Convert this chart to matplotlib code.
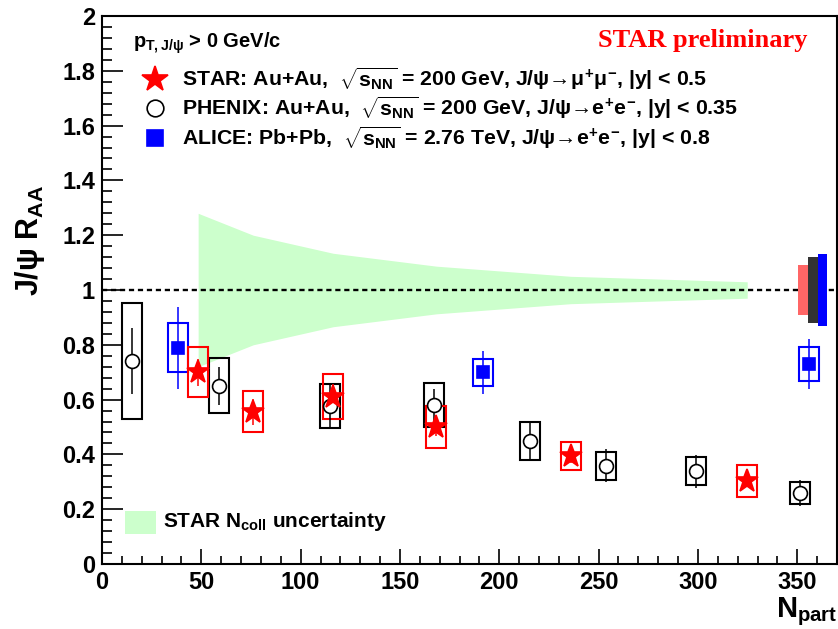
import matplotlib
matplotlib.use("Agg")
import matplotlib.pyplot as plt
from matplotlib.ticker import MultipleLocator

plt.rcParams['font.family'] = ['Liberation Sans', 'DejaVu Sans']
plt.rcParams['font.weight'] = 'bold'
plt.rcParams['mathtext.fontset'] = 'custom'
plt.rcParams['mathtext.rm'] = 'Liberation Sans:bold'
plt.rcParams['mathtext.it'] = 'Liberation Sans:bold'
plt.rcParams['mathtext.bf'] = 'Liberation Sans:bold'
plt.rcParams['mathtext.sf'] = 'Liberation Sans:bold'

# STAR Au+Au 200 GeV, J/psi -> mu+ mu-
star_npart = [48.4, 76.1, 116.4, 168.3, 235.9, 324.8]
star_raa = [0.700, 0.556, 0.611, 0.501, 0.394, 0.303]
star_stat = [0.050, 0.047, 0.045, 0.035, 0.025, 0.020]
star_sys = [0.092, 0.076, 0.083, 0.077, 0.052, 0.057]
star_ncoll_unc = [0.28, 0.20, 0.134, 0.087, 0.05, 0.03]

# PHENIX Au+Au 200 GeV, J/psi -> e+ e-
phenix_npart = [14.9, 58.9, 114.7, 167.0, 215.3, 253.9, 299.1, 351.3]
phenix_raa = [0.741, 0.650, 0.577, 0.580, 0.449, 0.358, 0.339, 0.260]
phenix_stat = [0.119, 0.070, 0.080, 0.060, 0.071, 0.060, 0.060, 0.048]
phenix_sys = [0.210, 0.100, 0.080, 0.081, 0.071, 0.052, 0.050, 0.041]

# ALICE Pb+Pb 2.76 TeV, J/psi -> e+ e-
alice_npart = [38.4, 191.6, 355.8]
alice_raa = [0.789, 0.700, 0.730]
alice_stat = [0.150, 0.078, 0.090]
alice_sys = [0.090, 0.050, 0.061]

# global normalisation uncertainties drawn at R_AA = 1 (STAR, PHENIX, ALICE)
global_x = [353.0, 357.9, 362.7]
global_unc = [0.091, 0.120, 0.130]
global_colors = ['#ff6666', '#333333', '#0000ff']

BOX_WIDTH = 10.0

fig = plt.figure(figsize=(8.38, 6.29), dpi=100)
ax = fig.add_axes([102 / 838, 65 / 629, 735 / 838, 548 / 629])

# N_coll uncertainty band around unity
band_lo = [1 - u for u in star_ncoll_unc]
band_hi = [1 + u for u in star_ncoll_unc]
ax.fill_between(star_npart, band_lo, band_hi, color='#ccffcc', lw=0, zorder=1)
ax.axhline(1.0, color='black', lw=1.7, ls=(0, (2.2, 1.6)), zorder=2)

for gx, gu, gc in zip(global_x, global_unc, global_colors):
    ax.bar(gx, 2 * gu, bottom=1 - gu, width=4.8, color=gc, lw=0, zorder=3)


def draw_series(npart, raa, stat, sys, color, marker, ms, mfc):
    # systematic boxes, statistical bars, then the markers on top
    bottoms = [r - s for r, s in zip(raa, sys)]
    heights = [2 * s for s in sys]
    ax.bar(npart, heights, bottom=bottoms, width=BOX_WIDTH, fill=False,
           edgecolor=color, lw=1.5, zorder=4)
    ax.errorbar(npart, raa, yerr=stat, fmt='none', ecolor=color, elinewidth=1.1,
                capsize=0, zorder=5)
    ax.plot(npart, raa, ls='none', marker=marker, ms=ms, mfc=mfc,
            mec=color, mew=1.2, zorder=6)


draw_series(phenix_npart, phenix_raa, phenix_stat, phenix_sys, 'black', 'o', 10, 'white')
draw_series(alice_npart, alice_raa, alice_stat, alice_sys, '#0000ff', 's', 9, '#0000ff')
draw_series(star_npart, star_raa, star_stat, star_sys, '#ff0000', '*', 17, '#ff0000')

ax.set_xlim(0, 370)
ax.set_ylim(0, 2)
ax.xaxis.set_major_locator(MultipleLocator(50))
ax.xaxis.set_minor_locator(MultipleLocator(10))
ax.yaxis.set_major_locator(MultipleLocator(0.2))
ax.yaxis.set_minor_locator(MultipleLocator(0.04))
ax.yaxis.set_major_formatter(lambda v, p: '%d' % round(v) if abs(v - round(v)) < 1e-9 else '%.1f' % v)
ax.tick_params(axis='both', which='both', direction='in', top=False, right=False,
               labelsize=17, width=1.2)
ax.tick_params(axis='y', which='major', length=15, pad=5)
ax.tick_params(axis='y', which='minor', length=7.5)
ax.tick_params(axis='x', which='major', length=11, pad=5)
ax.tick_params(axis='x', which='minor', length=5.5)
for lab in ax.get_xticklabels() + ax.get_yticklabels():
    lab.set_fontweight('bold')
for sp in ax.spines.values():
    sp.set_linewidth(1.5)

fig.text(30 / 838, 1 - 240 / 629, r'J/ψ $R_{AA}$', rotation=90, fontsize=22,
         fontweight='bold', ha='center', va='center')
fig.text(837 / 838, 1 - 617 / 629, r'$N_{part}$', fontsize=21, fontweight='bold',
         ha='right', va='baseline')

# legend block (top left)
tr = ax.transAxes
ax.text(0.042, 0.942, r'$p_{T,J/\psi}$ > 0 GeV/c', transform=tr, fontsize=14.5,
        fontweight='bold', va='baseline')
ax.text(0.9605, 0.943, 'STAR preliminary', transform=tr, fontsize=19, color='#ff0000',
        fontweight='bold', family=['Liberation Serif', 'DejaVu Serif'], ha='right',
        va='baseline')

legend_rows = [
    ('*', '#ff0000', '#ff0000', 19, 0.885,
     r'STAR: Au+Au,  $\sqrt{s_{NN}}$ = 200 GeV, J/ψ→$\mu^{+}\mu^{-}$, |y| < 0.5'),
    ('o', 'black', 'white', 12, 0.832,
     r'PHENIX: Au+Au,  $\sqrt{s_{NN}}$ = 200 GeV, J/ψ→$e^{+}e^{-}$, |y| < 0.35'),
    ('s', '#0000ff', '#0000ff', 11, 0.777,
     r'ALICE: Pb+Pb,  $\sqrt{s_{NN}}$ = 2.76 TeV, J/ψ→$e^{+}e^{-}$, |y| < 0.8'),
]
for mk, ec, fc, ms, yy, label in legend_rows:
    ax.plot([0.072], [yy], transform=tr, ls='none', marker=mk, ms=ms, mec=ec, mfc=fc,
            mew=1.2, clip_on=False)
    ax.text(0.109, yy - 0.013, label, transform=tr, fontsize=15.3, fontweight='bold',
            va='baseline')

# N_coll legend (bottom left)
ax.add_patch(plt.Rectangle((23 / 735, 30 / 548), 31 / 735, 23 / 548, transform=tr,
                           color='#ccffcc', lw=0))
ax.text(61 / 735, 37 / 548, r'STAR $N_{coll}$ uncertainty', transform=tr, fontsize=15,
        fontweight='bold', va='baseline')

fig.savefig('out.png', dpi=100)
